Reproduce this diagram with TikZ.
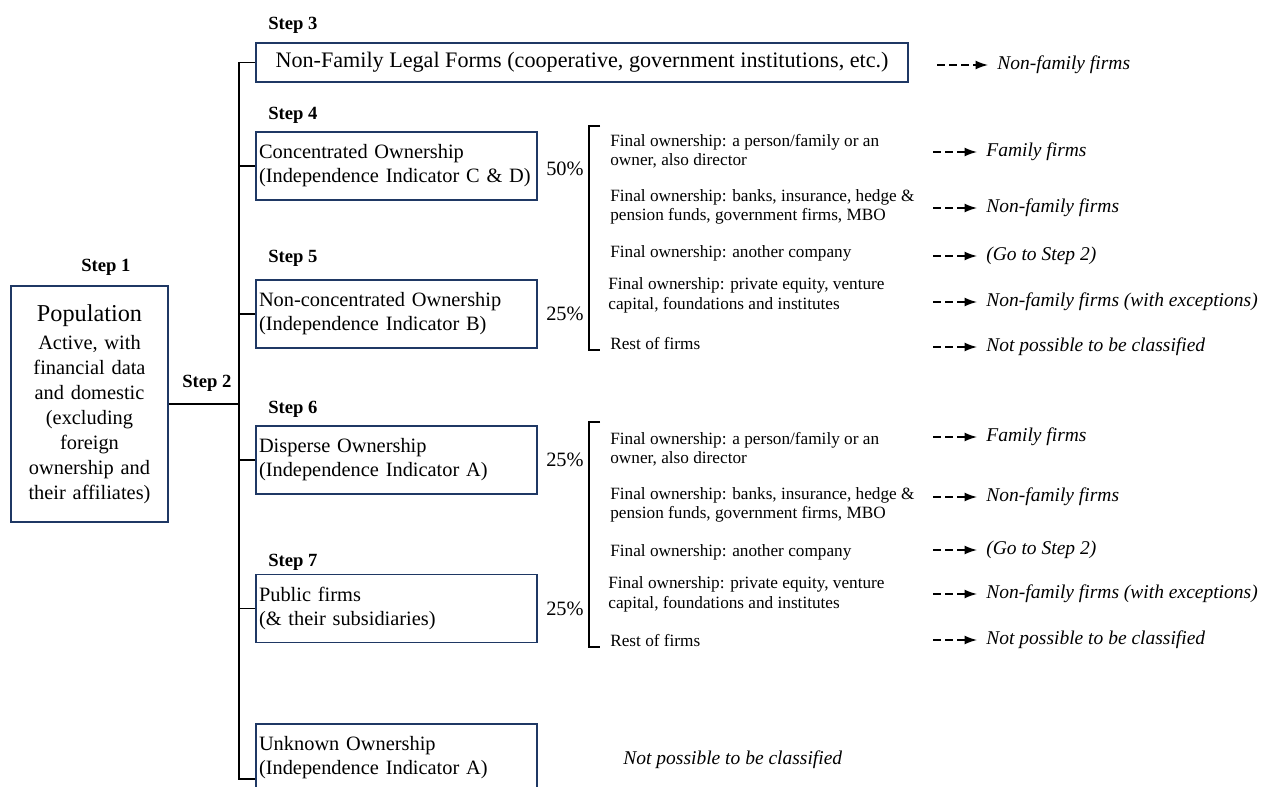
\documentclass[tikz,border=0pt]{standalone}
\usepackage{fontspec}
\setmainfont{Liberation Serif}
\usepackage{xcolor}
\usetikzlibrary{positioning,arrows.meta}
\definecolor{frame}{HTML}{1F3864}
\definecolor{ink}{HTML}{000000}
\newcommand{\fsmain}{\fontsize{11.6}{13.7}\selectfont}

\begin{document}
\begin{tikzpicture}[x=0.02cm,y=-0.02cm,every node/.style={text=ink},
  framed/.style={draw=frame,line width=1.1pt},
  box/.style={framed,minimum width=5.62cm,minimum height=1.36cm,text width=5.5cm,inner xsep=0.06cm,align=left,font=\fsmain},
  steplbl/.style={font=\fontsize{10.6}{12}\selectfont\bfseries,anchor=west,inner sep=0pt},
  pct/.style={font=\fsmain,inner sep=0pt},
  opt/.style={font=\fontsize{9.8}{11.1}\selectfont,align=left,anchor=west,inner sep=0pt},
  res/.style={font=\fontsize{11.1}{13}\selectfont\itshape,anchor=west,inner xsep=0.18cm,inner ysep=0pt},
  link/.style={line width=1.1pt},
  brace/.style={line width=0.9pt},
  toout/.style={-{Latex[length=7pt,width=5pt]},line width=0.8pt,dash pattern=on 4.3pt off 2.6pt}]
  \useasboundingbox (0,0) rectangle (1261,787);
  \clip (0,0) rectangle (1261,787);

  % population and step boxes
  \node[framed,minimum width=3.14cm,minimum height=4.72cm,text width=2.9cm,align=center,
        font=\fontsize{11.6}{14.2}\selectfont] (pop) at (89.5,404)
    {{\fontsize{13.8}{16}\selectfont Population}\\[2pt]Active, with\\financial data\\and domestic\\(excluding\\foreign\\ownership and\\their affiliates)};
  \node[framed,minimum width=13.04cm,minimum height=0.78cm,font=\fontsize{12.6}{14}\selectfont] (n3) at (582,62.5)
    {Non-Family Legal Forms (cooperative, government institutions, etc.)};
  \node[box] (n4) at (396.5,166) {Concentrated Ownership\\(Independence Indicator C \& D)};
  \node[box] (n5) at (396.5,314) {Non-concentrated Ownership\\(Independence Indicator B)};
  \node[box] (n6) at (396.5,460) {Disperse Ownership\\(Independence Indicator A)};
  \node[box] (n7) at (396.5,608.5) {Public firms\\(\& their subsidiaries)};
  \node[box] (n8) at (396.5,758) {Unknown Ownership\\(Independence Indicator A)};

  \node[steplbl] (s1) at (81,267) {Step 1};
  \node[steplbl] (s2) at (182,383) {Step 2};
  \node[steplbl] (s3) at (268,25) {Step 3};
  \node[steplbl] (s4) at (268,115) {Step 4};
  \node[steplbl] (s5) at (268,258) {Step 5};
  \node[steplbl] (s6) at (268,409) {Step 6};
  \node[steplbl] (s7) at (268,562) {Step 7};

  % tree lines
  \coordinate (bus) at (239,779);
  \coordinate (busend) at (255,779);
  \draw[link] (n3.west) -| (bus) -- (busend);
  \draw[link] (n4.west) -- (n4.west -| bus);
  \draw[link] (n5.west) -- (n5.west -| bus);
  \draw[link] (n6.west) -- (n6.west -| bus);
  \draw[link] (n7.west) -- (n7.west -| bus);
  \draw[link] (pop.east) -- (pop.east -| bus);

  \node[pct,right=0.16cm of n4,yshift=-0.06cm] (p4) {50\%};
  \node[pct,right=0.16cm of n5] (p5) {25\%};
  \node[pct,right=0.16cm of n6] (p6) {25\%};
  \node[pct,right=0.16cm of n7] (p7) {25\%};

  % brackets
  \coordinate (b1t) at (589,126);
  \coordinate (b1b) at (589,350);
  \coordinate (b2t) at (589,422);
  \coordinate (b2b) at (589,647);
  \draw[brace] ([xshift=0.22cm]b1t) -- (b1t) -- (b1b) -- ([xshift=0.22cm]b1b);
  \draw[brace] ([xshift=0.22cm]b2t) -- (b2t) -- (b2b) -- ([xshift=0.22cm]b2b);

  % final ownership, first group
  \node[opt] (f1) at (610,151.5) {Final ownership: a person/family or an\\owner, also director};
  \node[opt] (f2) at (610,207) {Final ownership: banks, insurance, hedge \&\\pension funds, government firms, MBO};
  \node[opt] (f3) at (610,253) {Final ownership: another company};
  \node[opt] (f4) at (608,295.5) {Final ownership: private equity, venture\\capital, foundations and institutes};
  \node[opt] (f5) at (610,344) {Rest of firms};
  % final ownership, second group
  \node[opt] (g1) at (610,449.5) {Final ownership: a person/family or an\\owner, also director};
  \node[opt] (g2) at (610,505) {Final ownership: banks, insurance, hedge \&\\pension funds, government firms, MBO};
  \node[opt] (g3) at (610,552) {Final ownership: another company};
  \node[opt] (g4) at (608,594.5) {Final ownership: private equity, venture\\capital, foundations and institutes};
  \node[opt] (g5) at (610,641) {Rest of firms};

  % outcomes
  \node[res] (r0) at (988,65) {Non-family firms};
  \node[res] (r1) at (977,152) {Family firms};
  \node[res] (r2) at (977,208) {Non-family firms};
  \node[res] (r3) at (977,256) {(Go to Step 2)};
  \node[res] (r4) at (977,302) {Non-family firms (with exceptions)};
  \node[res] (r5) at (977,347) {Not possible to be classified};
  \node[res] (q1) at (977,437) {Family firms};
  \node[res] (q2) at (977,497) {Non-family firms};
  \node[res] (q3) at (977,550) {(Go to Step 2)};
  \node[res] (q4) at (977,594) {Non-family firms (with exceptions)};
  \node[res] (q5) at (977,640) {Not possible to be classified};
  \node[res,inner sep=0pt] (r8) at (623,760) {Not possible to be classified};

  \draw[toout] ([xshift=-1.02cm]r0.west) -- (r0.west);
  \draw[toout] ([xshift=-0.88cm]r1.west) -- (r1.west);
  \draw[toout] ([xshift=-0.88cm]r2.west) -- (r2.west);
  \draw[toout] ([xshift=-0.88cm]r3.west) -- (r3.west);
  \draw[toout] ([xshift=-0.88cm]r4.west) -- (r4.west);
  \draw[toout] ([xshift=-0.88cm]r5.west) -- (r5.west);
  \draw[toout] ([xshift=-0.88cm]q1.west) -- (q1.west);
  \draw[toout] ([xshift=-0.88cm]q2.west) -- (q2.west);
  \draw[toout] ([xshift=-0.88cm]q3.west) -- (q3.west);
  \draw[toout] ([xshift=-0.88cm]q4.west) -- (q4.west);
  \draw[toout] ([xshift=-0.88cm]q5.west) -- (q5.west);
\end{tikzpicture}
\end{document}
